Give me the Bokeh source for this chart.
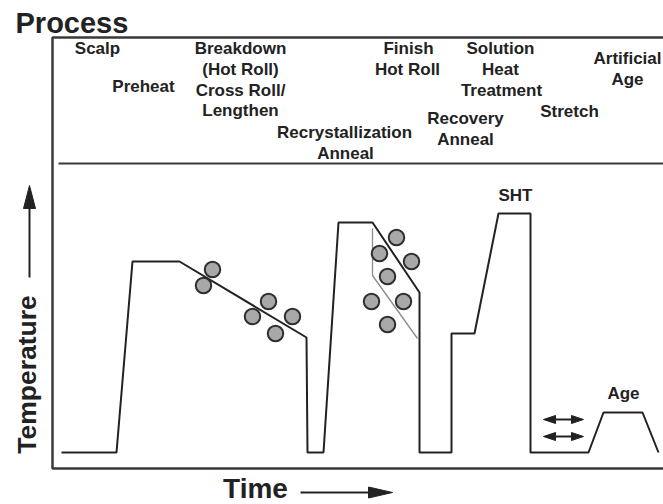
from bokeh.plotting import figure
from bokeh.models import Range1d
from bokeh.core.properties import value
from bokeh.embed import file_html
from bokeh.resources import INLINE
import math

# ---- data (arbitrary schematic units: time right, temperature up) ----
time_pts = [9, 64, 80, 127, 254, 255, 271, 286, 320, 367, 367, 399, 399, 422, 446, 478, 478, 536, 551, 590, 606]
temp_pts = [16, 16, 207, 207, 131, 16, 16, 246, 246, 176, 16, 16, 135, 135, 255, 255, 16, 16, 56, 56, 16]

recryst_time = [320, 320, 365]
recryst_temp = [240, 193, 130]

grain1_time = [160, 151, 216, 200, 240, 223]
grain1_temp = [199, 183, 167, 152, 152, 135]
grain2_time = [344, 327, 359, 335, 319, 351, 335]
grain2_temp = [231, 215, 207, 192, 167, 167, 144]

process_labels = ["Scalp", "Preheat", "Breakdown", "(Hot Roll)", "Cross Roll/", "Lengthen",
                  "Recrystallization", "Anneal", "Finish", "Hot Roll", "Solution", "Heat",
                  "Treatment", "Recovery", "Anneal", "Stretch", "Artificial", "Age"]
process_time = [45, 91, 188, 188, 188, 188, 292, 293, 356, 355, 448, 448, 449, 413, 413, 517, 575, 575]
process_temp = [420, 382, 420, 399, 378, 358, 336, 315, 420, 399, 420, 399, 378, 350, 329, 357, 410, 389]

stage_labels = ["SHT", "Age"]
stage_time = [463, 571]
stage_temp = [273, 75]

stretch_time = [491, 531]
stretch_temp = [49, 32]

# ---- figure: frame fills the canvas ----
X0, X1 = -52, 611
Y0, Y1 = -36, 468
p = figure(width=663, height=504, x_range=Range1d(X0, X1), y_range=Range1d(Y0, Y1),
           output_backend="svg", toolbar_location=None, min_border=0)
p.axis.visible = False
p.grid.visible = False
p.outline_line_color = None
p.background_fill_color = "white"
p.border_fill_color = "white"

INK = "#222222"
FONT = value("Liberation Sans")

# box (open on the right, runs off the page)
box_right = 640
box_top = 431
sep = 305
p.line([box_right, 0, 0, box_right], [box_top, box_top, 0, 0], line_color="#3a3a3a", line_width=2.5)
p.line([6, box_right], [sep, sep], line_color="#3a3a3a", line_width=2)

# process curve
p.line(time_pts, temp_pts, line_color=INK, line_width=2)
p.line(recryst_time, recryst_temp, line_color="#8c8c8c", line_width=1.3)

# grains
for gt, gy in ((grain1_time, grain1_temp), (grain2_time, grain2_temp)):
    p.scatter(gt, gy, size=15.5, marker="circle", fill_color="#a8a8a8",
              line_color="#2e2e2e", line_width=2)

# arrow helpers
def head(tip_x, tip_y, dx, dy, length, width):
    n = math.hypot(dx, dy)
    ux, uy = dx / n, dy / n
    bx, by = tip_x - ux * length, tip_y - uy * length
    px, py = -uy * width / 2, ux * width / 2
    return [tip_x, bx + px, bx - px], [tip_y, by + py, by - py]

heads_x, heads_y = [], []
# temperature arrow
tx, t_lo, t_hi = -23, 191, 283
p.line([tx, tx], [t_lo, t_hi - 10], line_color=INK, line_width=2)
hx, hy = head(tx, t_hi, 0, 1, 23, 12)
heads_x.append(hx); heads_y.append(hy)
# time arrow
ty, x_lo, x_hi = -24, 248, 340
p.line([x_lo, x_hi - 10], [ty, ty], line_color=INK, line_width=2)
hx, hy = head(x_hi, ty, 1, 0, 24, 11)
heads_x.append(hx); heads_y.append(hy)
# stretch double arrows
for sy in stretch_temp:
    a, b = stretch_time
    p.line([a + 4, b - 4], [sy, sy], line_color=INK, line_width=2)
    hx, hy = head(a, sy, -1, 0, 12, 8)
    heads_x.append(hx); heads_y.append(hy)
    hx, hy = head(b, sy, 1, 0, 12, 8)
    heads_x.append(hx); heads_y.append(hy)
p.patches(heads_x, heads_y, fill_color=INK, line_color=INK, line_width=1)

# texts
p.text(process_time, process_temp, text=process_labels, text_font=FONT, text_font_style="bold",
       text_font_size="17px", text_color=INK, text_align="center", text_baseline="middle")
p.text(stage_time, stage_temp, text=stage_labels, text_font=FONT, text_font_style="bold",
       text_font_size="17px", text_color=INK, text_align="center", text_baseline="middle")
p.text([-37], [446], text=["Process"], text_font=FONT, text_font_style="bold",
       text_font_size="29px", text_color=INK, text_align="left", text_baseline="middle")
p.text([-26], [94], text=["Temperature"], angle=math.pi / 2, text_font=FONT, text_font_style="bold",
       text_font_size="26.5px", text_color=INK, text_align="center", text_baseline="middle")
p.text([203], [-20], text=["Time"], text_font=FONT, text_font_style="bold",
       text_font_size="28px", text_color=INK, text_align="center", text_baseline="middle")

open("out.html", "w").write(file_html(p, INLINE))
